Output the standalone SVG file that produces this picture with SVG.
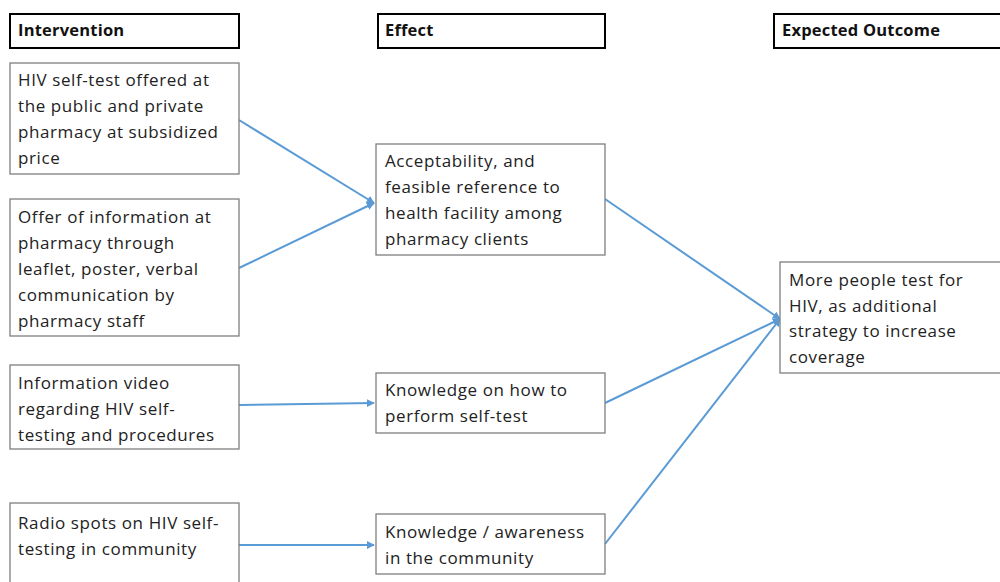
<svg xmlns="http://www.w3.org/2000/svg" width="1000" height="582" viewBox="0 0 1000 582">
<style>
.hdr{fill:#fff;stroke:#000;stroke-width:2}
.box{fill:#fff;stroke:#7f7f7f;stroke-width:1.3}
text{font-family:"Open Sans","Liberation Sans",sans-serif;font-size:17px;letter-spacing:0.6px;fill:#222}
.h{font-weight:bold;font-size:16.5px;letter-spacing:0.2px;fill:#111}
.c{fill:none;stroke:#5b9bd5;stroke-width:2}
</style>
<defs>
<marker id="ar" viewBox="0 0 10 10" refX="9" refY="5" markerWidth="4" markerHeight="4" orient="auto" markerUnits="strokeWidth">
<path d="M0,0 L10,5 L0,10 z" fill="#5b9bd5"/>
</marker>
</defs>
<rect width="1000" height="582" fill="#fff"/>
<g id="h-intervention"><rect class="hdr" x="10" y="14" width="229" height="34"/><text class="h" x="18" y="36">Intervention</text></g>
<g id="h-effect"><rect class="hdr" x="378" y="14" width="227" height="34"/><text class="h" x="385" y="36">Effect</text></g>
<g id="h-outcome"><rect class="hdr" x="774" y="14" width="230" height="34"/><text class="h" x="782" y="36">Expected Outcome</text></g>

<g id="connectors">
<line class="c" x1="239" y1="120" x2="374" y2="203" marker-end="url(#ar)"/>
<line class="c" x1="239" y1="268" x2="374" y2="203" marker-end="url(#ar)"/>
<line class="c" x1="239" y1="405" x2="374" y2="403" marker-end="url(#ar)"/>
<line class="c" x1="239" y1="545" x2="374" y2="545" marker-end="url(#ar)"/>
<line class="c" x1="605" y1="199" x2="780" y2="319" marker-end="url(#ar)"/>
<line class="c" x1="605" y1="403" x2="780" y2="319" marker-end="url(#ar)"/>
<line class="c" x1="605" y1="544" x2="780" y2="319" marker-end="url(#ar)"/>
</g>

<g id="i1"><rect class="box" x="10" y="63" width="229" height="111"/>
<text x="18" y="86">HIV self-test offered at</text>
<text x="18" y="112">the public and private</text>
<text x="18" y="138">pharmacy at subsidized</text>
<text x="18" y="164">price</text></g>
<g id="i2"><rect class="box" x="10" y="199" width="229" height="137"/>
<text x="18" y="223">Offer of information at</text>
<text x="18" y="249">pharmacy through</text>
<text x="18" y="275">leaflet, poster, verbal</text>
<text x="18" y="301">communication by</text>
<text x="18" y="327">pharmacy staff</text></g>
<g id="i3"><rect class="box" x="10" y="365" width="229" height="84"/>
<text x="18" y="389">Information video</text>
<text x="18" y="415">regarding HIV self-</text>
<text x="18" y="441">testing and procedures</text></g>
<g id="i4"><rect class="box" x="10" y="503" width="229" height="90"/>
<text x="18" y="529">Radio spots on HIV self-</text>
<text x="18" y="555">testing in community</text></g>

<g id="e1"><rect class="box" x="376" y="144" width="229" height="111"/>
<text x="385" y="167">Acceptability, and</text>
<text x="385" y="193">feasible reference to</text>
<text x="385" y="219">health facility among</text>
<text x="385" y="245">pharmacy clients</text></g>
<g id="e2"><rect class="box" x="376" y="373" width="229" height="60"/>
<text x="385" y="396">Knowledge on how to</text>
<text x="385" y="422">perform self-test</text></g>
<g id="e3"><rect class="box" x="376" y="514" width="229" height="60"/>
<text x="385" y="538">Knowledge / awareness</text>
<text x="385" y="564">in the community</text></g>

<g id="o1"><rect class="box" x="780" y="262" width="224" height="111"/>
<text x="789" y="286">More people test for</text>
<text x="789" y="312">HIV, as additional</text>
<text x="789" y="337">strategy to increase</text>
<text x="789" y="363">coverage</text></g>
</svg>
